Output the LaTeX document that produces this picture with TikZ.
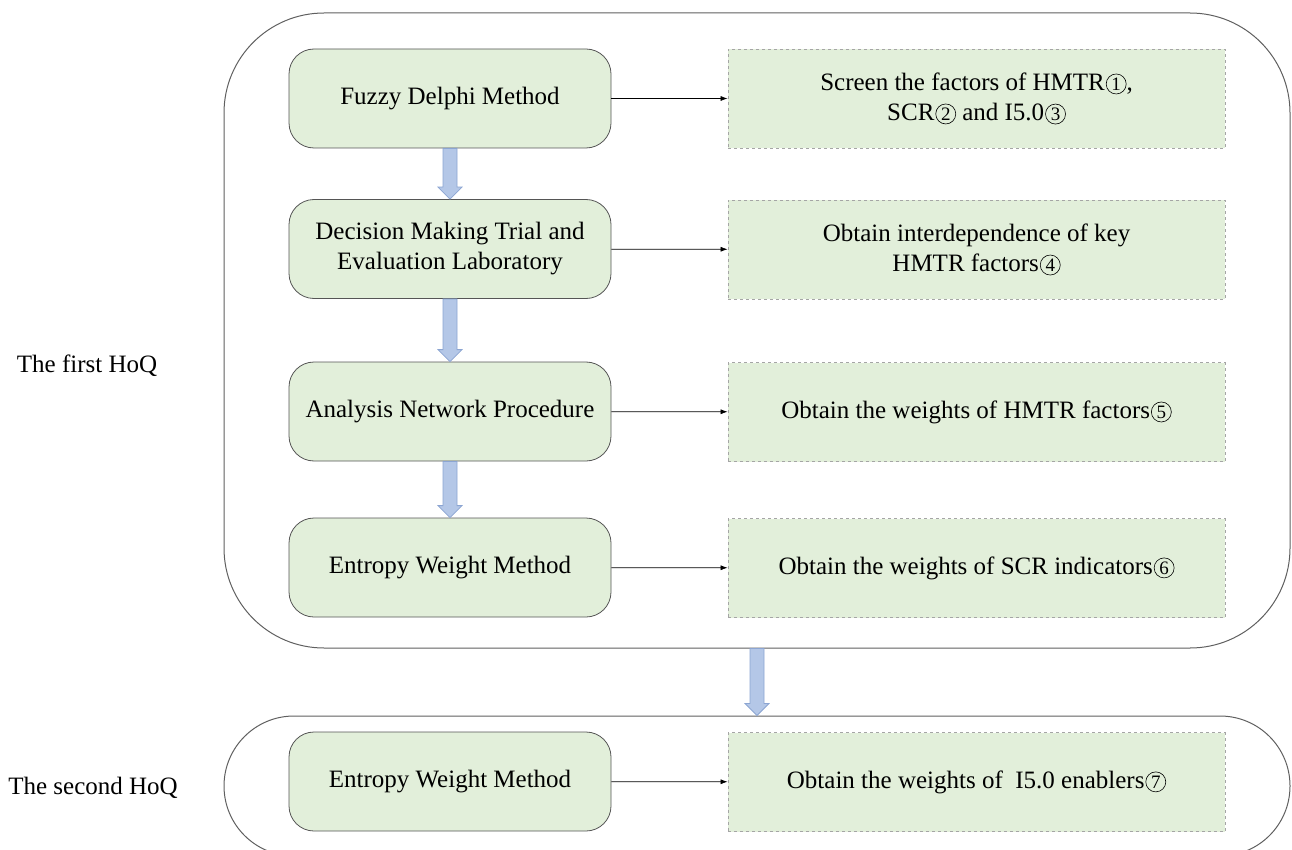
\documentclass[tikz,border=0pt]{standalone}
\usepackage{fontspec}
\setmainfont{Liberation Serif}
\usetikzlibrary{arrows.meta,calc}
\definecolor{boxgreen}{RGB}{226,239,218}
\definecolor{boxline}{RGB}{85,85,85}
\definecolor{dashline}{RGB}{165,165,165}
\definecolor{arrfill}{RGB}{180,199,231}
\definecolor{arrline}{RGB}{140,165,210}
\definecolor{outline}{RGB}{95,95,95}
\newcommand\cnum[1]{\hspace{1pt}\tikz[baseline=(X.base)]\node[draw,circle,line width=0.6pt,inner sep=0pt,minimum size=20pt,font=\fontsize{19}{19}\selectfont](X){#1};}
\tikzset{
  method/.style={draw=boxline,line width=0.8pt,fill=boxgreen,rounded corners=25pt,
    minimum width=322pt,minimum height=99pt,align=center,font=\fontsize{25}{30}\selectfont},
  result/.style={draw=dashline,dashed,line width=0.8pt,fill=boxgreen,
    minimum width=497pt,minimum height=99pt,align=center,font=\fontsize{25}{30}\selectfont},
  hoq/.style={draw=outline,line width=1pt},
  lbl/.style={font=\fontsize{25}{30}\selectfont},
  link/.style={-{Latex[length=7pt,width=5pt]},line width=0.7pt,black},
  blk/.style={draw=arrline,fill=arrfill,line width=0.8pt}
}
\newcommand\blockarrow[2]{%
  \path let \p1=(#1), \p2=(#2) in [blk]
    (\x1-7pt,\y1) -- (\x1-7pt,\y2+12pt) -- (\x1-12pt,\y2+12pt) -- (\x1,\y2)
    -- (\x1+12pt,\y2+12pt) -- (\x1+7pt,\y2+12pt) -- (\x1+7pt,\y1) -- cycle;}
\begin{document}
\begin{tikzpicture}[x=1pt,y=-1pt]
\useasboundingbox (0,0) rectangle (1292,850);
\clip (0,0) rectangle (1292,850);
% outer groups
\node[hoq,rounded corners=100pt,minimum width=1066pt,minimum height=635pt] (hoq1) at (757,330.5) {};
\node[hoq,rounded corners=70pt,minimum width=1066pt,minimum height=140pt] (hoq2) at (757,786) {};
% labels
\node[lbl] (l1) at (87,366) {The first HoQ};
\node[lbl] (l2) at (93,788) {The second HoQ};
% method boxes
\node[method] (fdm) at (450,98.5) {Fuzzy Delphi Method};
\node[method] (dem) at (450,249) {Decision Making Trial and\\Evaluation Laboratory};
\node[method] (anp) at (450,411.5) {Analysis Network Procedure};
\node[method] (ewm) at (450,567.5) {Entropy Weight Method};
\node[method] (ewm2) at (450,781.5) {Entropy Weight Method};
% result boxes
\node[result] (r1) at (976.5,98.5) {Screen the factors of HMTR\cnum{1},\\SCR\cnum{2} and I5.0\cnum{3}};
\node[result] (r2) at (976.5,249.5) {Obtain interdependence of key\\HMTR factors\cnum{4}};
\node[result] (r3) at (976.5,412) {Obtain the weights of HMTR factors\cnum{5}};
\node[result] (r4) at (976.5,568) {Obtain the weights of SCR indicators\cnum{6}};
\node[result] (r5) at (976.5,782) {Obtain the weights of~ I5.0 enablers\cnum{7}};
% links
\draw[link] (fdm) -- (r1);
\draw[link] (dem) -- (r2);
\draw[link] (anp) -- (r3);
\draw[link] (ewm) -- (r4);
\draw[link] (ewm2) -- (r5);
% block arrows
\blockarrow{fdm.south}{dem.north}
\blockarrow{dem.south}{anp.north}
\blockarrow{anp.south}{ewm.north}
\blockarrow{hoq1.south}{hoq2.north}
\end{tikzpicture}
\end{document}
